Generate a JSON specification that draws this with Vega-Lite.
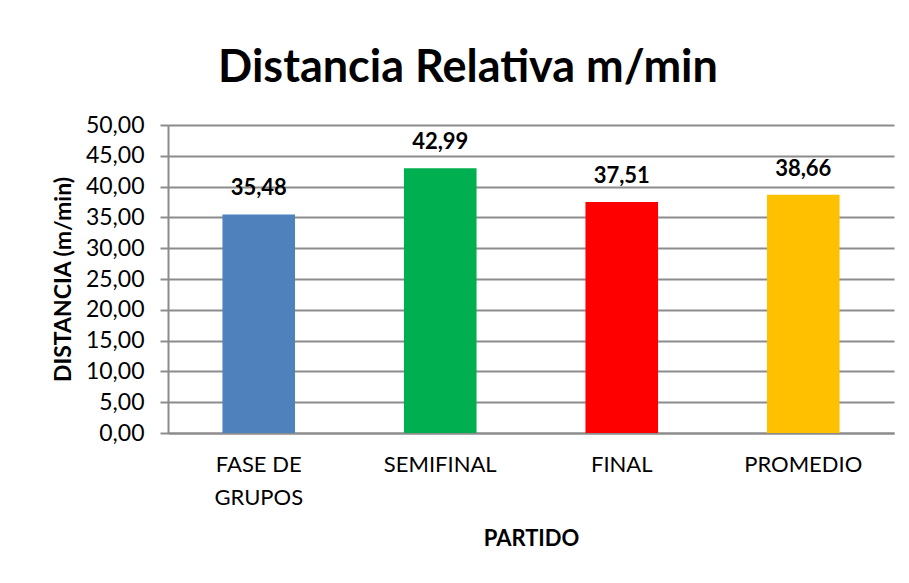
{
  "$schema": "https://vega.github.io/schema/vega-lite/v6.json",
  "autosize": "none",
  "width": 726,
  "height": 308,
  "padding": {"left": 168, "top": 125, "right": 15, "bottom": 150},
  "background": "white",
  "config": {
    "locale": {"number": {"decimal": ",", "thousands": ".", "grouping": [3], "currency": ["", " €"]}},
    "font": "Lato",
    "view": {"stroke": null}
  },
  "title": {
    "text": "Distancia Relativa m/min",
    "fontSize": 45,
    "fontWeight": "bold",
    "font": "Lato",
    "color": "#000000",
    "anchor": "middle",
    "frame": "group",
    "dx": -63,
    "offset": 23
  },
  "data": {
    "values": [
      {"partido": "FASE DE GRUPOS", "distancia": 35.48},
      {"partido": "SEMIFINAL", "distancia": 42.99},
      {"partido": "FINAL", "distancia": 37.51},
      {"partido": "PROMEDIO", "distancia": 38.66}
    ]
  },
  "encoding": {
    "x": {
      "field": "partido",
      "type": "nominal",
      "sort": null,
      "scale": {"paddingInner": 0.6, "paddingOuter": 0.3},
      "axis": {
        "title": "PARTIDO",
        "titleFontSize": 22,
        "titleFontWeight": "bold",
        "titleColor": "#000000",
        "titlePadding": 20,
        "labelAngle": 0,
        "labelFontSize": 22,
        "labelColor": "#000000",
        "labelPadding": 21,
        "labelLineHeight": 33,
        "labelExpr": "datum.value == 'FASE DE GRUPOS' ? ['FASE DE', 'GRUPOS'] : datum.label",
        "ticks": false,
        "domainColor": "#8c8c8c",
        "domainWidth": 2
      }
    },
    "y": {
      "field": "distancia",
      "type": "quantitative",
      "scale": {"domain": [0, 50]},
      "axis": {
        "title": "DISTANCIA (m/min)",
        "titleFontSize": 23,
        "titleFontWeight": "bold",
        "titleColor": "#000000",
        "titlePadding": 10,
        "values": [0, 5, 10, 15, 20, 25, 30, 35, 40, 45, 50],
        "format": ".2f",
        "labelFontSize": 23,
        "labelColor": "#000000",
        "labelPadding": 16,
        "tickSize": 8,
        "tickColor": "#8c8c8c",
        "tickWidth": 2,
        "domainColor": "#8c8c8c",
        "domainWidth": 2,
        "gridColor": "#8c8c8c",
        "gridWidth": 2
      }
    }
  },
  "layer": [
    {
      "mark": {"type": "bar"},
      "encoding": {
        "color": {
          "field": "partido",
          "type": "nominal",
          "scale": {
            "domain": ["FASE DE GRUPOS", "SEMIFINAL", "FINAL", "PROMEDIO"],
            "range": ["#4F81BD", "#00B050", "#FF0000", "#FFC000"]
          },
          "legend": null
        }
      }
    },
    {
      "mark": {"type": "text", "baseline": "bottom", "dy": -14, "fontSize": 22, "fontWeight": "bold", "color": "#000000"},
      "encoding": {
        "text": {"field": "distancia", "type": "quantitative", "format": ".2f"}
      }
    }
  ]
}
